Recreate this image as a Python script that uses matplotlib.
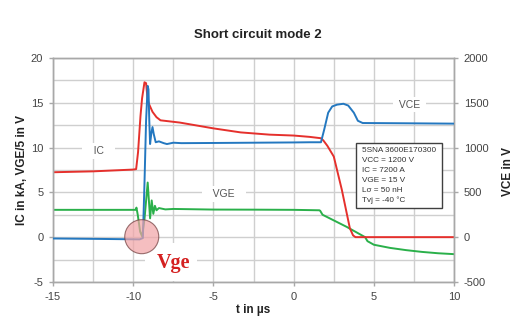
import matplotlib
matplotlib.use("Agg")
import matplotlib.pyplot as plt
from matplotlib.patches import Ellipse, Rectangle
from matplotlib.ticker import MultipleLocator

plt.rcParams['font.family'] = ['Liberation Sans', 'DejaVu Sans']
plt.rcParams['axes.unicode_minus'] = False

# ---- data ----
t_ic = [-15, -12.5, -10, -9.82, -9.7, -9.55, -9.45, -9.3, -9.2, -9.1, -9.0, -8.8,
        -8.55, -8.3, -7.1, -5, -3.3, -1.5, 0, 1.0, 1.7, 1.85, 2.1, 2.5, 3.0, 3.5,
        3.7, 3.85, 10]
ic = [7.25, 7.35, 7.55, 7.6, 9.5, 13.5, 15.5, 17.3, 17.2, 15.3, 14.8, 14.0,
      13.4, 13.05, 12.8, 12.15, 11.7, 11.45, 11.35, 11.2, 11.05, 10.8, 10.2, 9.0,
      5.3, 1.0, 0.2, 0.0, 0.0]

t_vce = [-15, -12, -9.6, -9.4, -9.3, -9.2, -9.1, -9.05, -9.0, -8.95, -8.88, -8.8,
         -8.72, -8.6, -8.4, -8.1, -7.9, -7.5, -7, -5, -2.5, 0, 1.0, 1.7, 1.9,
         2.15, 2.4, 2.7, 3.1, 3.4, 3.75, 4.0, 4.3, 7, 10]
vce = [-15, -20, -25, -10, 600, 1300, 1690, 1650, 1300, 1040, 1150, 1230,
       1150, 1060, 1070, 1050, 1040, 1055, 1050, 1052, 1055, 1058, 1060, 1060, 1200,
       1390, 1460, 1480, 1490, 1470, 1390, 1300, 1275, 1272, 1268]

t_vge = [-15, -12, -9.85, -9.8, -9.72, -9.57, -9.45, -9.3, -9.1, -8.95, -8.85,
         -8.75, -8.65, -8.55, -8.4, -8.0, -7.5, -5, -2.5, 0, 1.6, 1.65, 1.8,
         3.3, 4.45, 4.6, 5, 6, 7, 8, 9, 10]
vge = [3.05, 3.05, 3.05, 3.3, 2.5, 0.6, 0.1, 2.0, 6.1, 2.1, 4.1,
       2.6, 3.5, 3.0, 3.25, 3.1, 3.15, 3.08, 3.07, 3.05, 3.0, 2.95, 2.5,
       1.15, 0.0, -0.45, -0.85, -1.2, -1.45, -1.65, -1.8, -1.9]

x_ticks = [-15, -10, -5, 0, 5, 10]
left_ticks = [-5, 0, 5, 10, 15, 20]
right_ticks = [-500, 0, 500, 1000, 1500, 2000]
info_lines = ["5SNA 3600E170300", "VCC = 1200 V", "IC = 7200 A",
              "VGE = 15 V", "Lσ = 50 nH", "Tvj = -40 °C"]

# ---- styling ----
RED = '#e5302c'
BLUE = '#2478c0'
GREEN = '#2ab04a'
GRID = '#cfcfcf'
SPINE = '#a8a8a8'
TICKTXT = '#444444'

fig = plt.figure(figsize=(5.25, 3.34), dpi=100)
ax = fig.add_axes([0.101, 0.156, 0.764, 0.670])
ax2 = ax.twinx()
ax2.set_position([0.101, 0.156, 0.764, 0.670])

ax.set_xlim(-15, 10)
ax.set_ylim(-5, 20)
ax2.set_ylim(-500, 2000)

ax.set_xticks(x_ticks)
ax.set_yticks(left_ticks)
ax2.set_yticks(right_ticks)
ax.xaxis.set_minor_locator(MultipleLocator(2.5))
ax.yaxis.set_minor_locator(MultipleLocator(2.5))
ax.grid(True, which='both', color=GRID, lw=1.0)

for a in (ax, ax2):
    for s in a.spines.values():
        s.set_color(SPINE)
        s.set_linewidth(1.0)
    a.tick_params(which='major', length=3, width=1, color=SPINE,
                  labelsize=8, labelcolor=TICKTXT, pad=4)
    a.tick_params(which='minor', length=0)

# white patch around the annotation
ax.add_patch(Rectangle((-9.26, -4.9), 3.24, 4.23, facecolor='white',
                       edgecolor='none', zorder=1.8))

ax.plot(t_ic, ic, color=RED, lw=1.4, zorder=2.5)
ax.plot(t_vge, vge, color=GREEN, lw=1.4, zorder=2.4)
ax2.plot(t_vce, vce, color=BLUE, lw=1.4, zorder=2.6)

lbl = dict(fontsize=7.5, color='#555555', ha='center', va='center', zorder=3,
           bbox=dict(facecolor='white', edgecolor='none', pad=2))
ax.text(-12.15, 9.6, "   IC   ", **lbl)
ax.text(-4.35, 4.85, "   VGE   ", **lbl)
ax.text(7.2, 14.8, " VCE ", **lbl)

# circle highlight
ax2.add_patch(Ellipse((-9.47, 0.05), 2.12, 3.8, transform=ax.transData,
                      facecolor='#f2a3a6', alpha=0.7, edgecolor='#6e3a3a',
                      lw=0.8, zorder=5))
ax2.text(-7.49, -3.4, "Vge", transform=ax.transData, color='#d42020',
         fontsize=14.5, fontweight='bold', family=['Liberation Serif', 'DejaVu Serif'],
         ha='center', va='baseline', zorder=6)

# info box
x0 = (356 - 53) / 401
x1 = (442 - 53) / 401
y_top = (282 - 143) / 224
y_bot = (282 - 208) / 224
ax2.add_patch(Rectangle((x0, y_bot), x1 - x0, y_top - y_bot, transform=ax.transAxes,
                        facecolor='white', edgecolor='#404040', lw=1.0, zorder=6))
for i, line in enumerate(info_lines):
    ypx = 150.7 + i * 9.9
    ax2.text((362 - 53) / 401, (282 - ypx) / 224, line, transform=ax.transAxes,
             fontsize=5.9, color='#333333', ha='left', va='center', zorder=7)

fig.text(258 / 525, 1 - 35 / 334, "Short circuit mode 2", fontsize=9.5,
         fontweight='bold', color='#222222', ha='center', va='center')
fig.text(22 / 525, 1 - 170 / 334, "IC in kA, VGE/5 in V", fontsize=8.5,
         fontweight='bold', color='#222222', rotation=90, ha='center', va='center')
fig.text(508 / 525, 1 - 171 / 334, "VCE in V", fontsize=8.5,
         fontweight='bold', color='#222222', rotation=90, ha='center', va='center')
fig.text(253 / 525, 1 - 310 / 334, "t in µs", fontsize=8.5,
         fontweight='bold', color='#222222', ha='center', va='center')

fig.savefig("out.png", dpi=100, facecolor='white')
